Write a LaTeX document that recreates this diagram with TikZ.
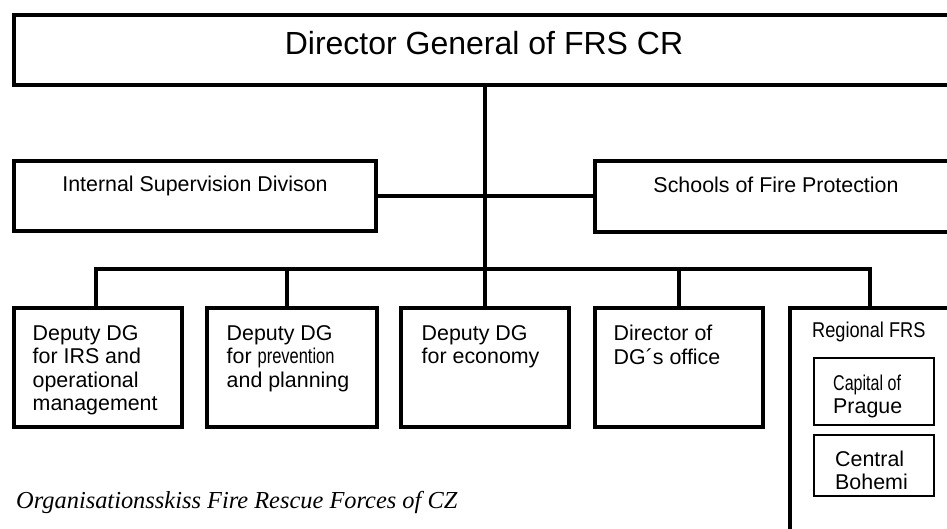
\documentclass[tikz,border=0pt]{standalone}
\usepackage{fontspec}
\setmainfont{Liberation Sans}
\newfontfamily\captionfont{Liberation Serif}
\usepackage{graphicx}
\usetikzlibrary{positioning,calc}

% squeezed text, as in the narrow labels
\newcommand{\narrow}[2]{\scalebox{#1}[1]{#2}}

\begin{document}
\begin{tikzpicture}[
  x=1pt, y=-1pt,
  unit/.style={draw, line width=3.6pt, inner sep=0pt},
  subunit/.style={draw, line width=1.7pt, inner sep=0pt},
  link/.style={line width=3.6pt},
  txt/.style={font=\fontsize{21.4}{23.5}\selectfont, inner sep=0pt},
  desc/.style={txt, align=left, anchor=north west}
]

  \useasboundingbox (0,0) rectangle (947,529);

  % Top level (box runs off the right edge)
  \node [unit, minimum width=948pt, minimum height=70pt] (dg) at (488,50) {};
  \node [anchor=base, inner sep=0pt, font=\fontsize{32}{36}\selectfont] (dgt) at (484,55) {Director General of FRS CR};

  % Staff level
  \node [unit, minimum width=362pt, minimum height=70pt] (isd) at (195,196) {};
  \node [txt, anchor=base] (isdt) at (195,192) {Internal Supervision Divison};
  \node [unit, minimum width=367pt, minimum height=71pt] (sfp) at (778.5,196.5) {};
  \node [txt, anchor=base] (sfpt) at (776,193) {Schools of Fire Protection};

  % Deputies
  \node [unit, minimum width=168pt, minimum height=119pt] (dep1) at (98,367.5) {};
  \node [unit, minimum width=170pt, minimum height=119pt] (dep2) at (292,367.5) {};
  \node [unit, minimum width=168pt, minimum height=119pt] (dep3) at (485,367.5) {};
  \node [unit, minimum width=168pt, minimum height=119pt] (dir) at (679,367.5) {};
  \node [unit, minimum width=190pt, minimum height=252pt] (reg) at (885,434) {};

  \node [desc] (dep1t) at (32.5,325) {Deputy DG\\for IRS and\\operational\\management};
  \node [desc] (dep2t) at (226.5,325) {Deputy DG\\for \narrow{0.77}{prevention}\\and planning};
  \node [desc] (dep3t) at (421.5,325) {Deputy DG\\for economy};
  \node [desc] (dirt) at (613.5,325) {Director of\\DG´s office};

  % Regional units
  \node [txt, anchor=base west] (regt) at (812,337) {\narrow{0.85}{Regional FRS}};
  \node [subunit, minimum width=120pt, minimum height=67pt] (cap) at (874,391.5) {};
  \node [desc] (capt) at (833,374.5) {\narrow{0.75}{Capital of}\\Prague};
  \node [subunit, minimum width=120pt, minimum height=61pt] (cen) at (874,465.5) {};
  \node [desc] (cent) at (835,450.5) {Central\\Bohemi};

  % Connectors
  \coordinate (bus) at (485,269);
  \coordinate (t1) at (96,269);
  \coordinate (t2) at (287,269);
  \coordinate (t4) at (679,269);
  \coordinate (t5) at (870,269);
  \draw [link] (bus |- dg.south) -- (bus);
  \draw [link] (isd.east) -- (isd.east -| sfp.west);
  \draw [link] (t1 |- dep1.north) -- (t1) -- (t5) -- (t5 |- reg.north);
  \foreach \t/\n in {t2/dep2, bus/dep3, t4/dir}
    \draw [link] (\t) -- (\t |- \n.north);

  % Caption
  \node [anchor=base west, inner sep=0pt, font=\captionfont\itshape\fontsize{24.4}{28}\selectfont] (caption) at (16,508) {Organisationsskiss Fire Rescue Forces of CZ};

\end{tikzpicture}
\end{document}
